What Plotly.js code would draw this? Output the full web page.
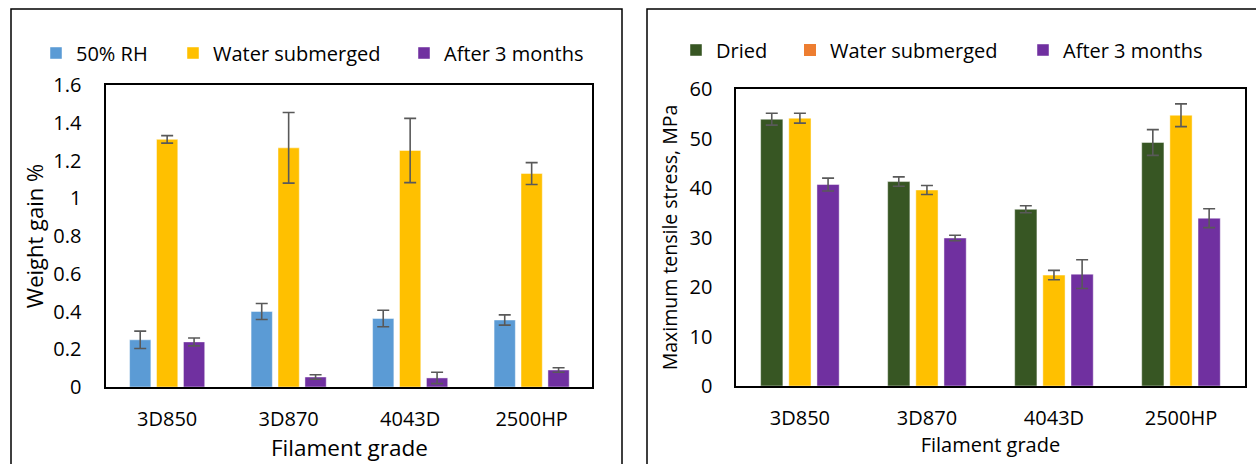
<!DOCTYPE html>
<html>
<head>
<meta charset="utf-8">
<script src="https://cdn.plot.ly/plotly-3.0.1.min.js"></script>
<style>
  html, body { margin: 0; padding: 0; background: #fff; }
  #chart { width: 1256px; height: 464px; }
</style>
</head>
<body>
<div id="chart"></div>
<script>
// Filament grades shared by both panels
const grades = ['3D850', '3D870', '4043D', '2500HP'];

// Left panel: weight gain (%)
const gainRH = [0.25, 0.40, 0.363, 0.355];
const gainRHErr = [0.046, 0.042, 0.044, 0.027];
const gainWater = [1.312, 1.267, 1.253, 1.131];
const gainWaterErr = [0.02, 0.187, 0.17, 0.058];
const gainAfter = [0.239, 0.053, 0.048, 0.090];
const gainAfterErr = [0.021, 0.012, 0.03, 0.012];

// Right panel: maximum tensile stress (MPa)
const stressDried = [53.9, 41.3, 35.7, 49.2];
const stressDriedErr = [1.2, 0.95, 0.7, 2.6];
const stressWater = [54.1, 39.6, 22.4, 54.7];
const stressWaterErr = [1.0, 0.9, 0.95, 2.3];
const stressAfter = [40.7, 29.9, 22.6, 33.9];
const stressAfterErr = [1.3, 0.55, 2.9, 1.9];

const W = 1256, H = 464;
const px = v => v / W;          // horizontal pixel -> paper
const py = v => 1 - v / H;      // vertical pixel (from top) -> paper

const FONT = '"Open Sans", "Noto Sans", sans-serif';
const BLUE = '#5B9BD5', YELLOW = '#FFC000', PURPLE = '#7030A0';
const GREEN = '#375623', ORANGE = '#ED7D31';

function errBar(arr) {
  return { type: 'data', array: arr, visible: true, color: '#595959', thickness: 1.6, width: 6 };
}

function bar(name, y, err, color, xa, ya, legend, extra) {
  return Object.assign({
    type: 'bar', name: name, x: grades, y: y,
    xaxis: xa, yaxis: ya, legend: legend,
    marker: { color: color, line: { color: 'rgba(255,255,255,0.45)', width: 1 } },
    error_y: errBar(err),
    hoverinfo: 'x+y+name'
  }, extra || {});
}

const data = [
  bar('50% RH', gainRH, gainRHErr, BLUE, 'x', 'y', 'legend'),
  bar('Water submerged', gainWater, gainWaterErr, YELLOW, 'x', 'y', 'legend2'),
  bar('After 3 months', gainAfter, gainAfterErr, PURPLE, 'x', 'y', 'legend3'),

  bar('Dried', stressDried, stressDriedErr, GREEN, 'x2', 'y2', 'legend4', { offsetgroup: 'd' }),
  bar('Water submerged', stressWater, stressWaterErr, YELLOW, 'x2', 'y2', 'legend5', { offsetgroup: 'w', showlegend: false }),
  // legend key for the submerged series keeps its orange swatch
  { type: 'bar', name: 'Water submerged', x: [grades[0]], y: [null], xaxis: 'x2', yaxis: 'y2',
    legend: 'legend5', offsetgroup: 'w', marker: { color: ORANGE }, hoverinfo: 'skip' },
  bar('After 3 months', stressAfter, stressAfterErr, PURPLE, 'x2', 'y2', 'legend6', { offsetgroup: 'a' })
];

function legendAt(xPix, yPix) {
  return {
    x: px(xPix), y: py(yPix), xanchor: 'left', yanchor: 'middle',
    orientation: 'h', bgcolor: 'rgba(0,0,0,0)', borderwidth: 0,
    itemwidth: 30, font: { family: FONT, size: 20, color: '#000' },
    itemclick: false, itemdoubleclick: false
  };
}

const axisLine = { showline: true, mirror: true, linecolor: '#000', linewidth: 2,
  showgrid: false, zeroline: false, ticks: '' };

const layout = {
  width: W, height: H,
  margin: { l: 0, r: 0, t: 0, b: 0 },
  paper_bgcolor: '#fff', plot_bgcolor: '#fff',
  font: { family: FONT, color: '#000' },
  barmode: 'group', bargap: 0.335, bargroupgap: 0.21,
  showlegend: true,
  xaxis: Object.assign({}, axisLine, {
    domain: [px(106.4), px(592.4)], anchor: 'y', type: 'category',
    tickfont: { family: FONT, size: 20, color: '#000' }, ticklabelstandoff: 13,
    title: { text: 'Filament grade', font: { family: FONT, size: 22.5, color: '#000' }, standoff: 3 }
  }),
  yaxis: Object.assign({}, axisLine, {
    domain: [py(387), py(85)], anchor: 'x', range: [0, 1.6], dtick: 0.2,
    tickfont: { family: FONT, size: 20, color: '#000' }, ticklabelstandoff: 19,
    title: { text: 'Weight gain %', font: { family: FONT, size: 22, color: '#000' }, standoff: 4 }
  }),
  xaxis2: Object.assign({}, axisLine, {
    domain: [px(736.4), px(1244.5)], anchor: 'y2', type: 'category',
    tickfont: { family: FONT, size: 20, color: '#000' }, ticklabelstandoff: 13,
    title: { text: 'Filament grade', font: { family: FONT, size: 20, color: '#000' }, standoff: 6 }
  }),
  yaxis2: Object.assign({}, axisLine, {
    domain: [py(386), py(89)], anchor: 'x2', range: [0, 60], dtick: 10,
    tickfont: { family: FONT, size: 20, color: '#000' }, ticklabelstandoff: 18,
    title: { text: 'Maximum tensile stress, MPa', font: { family: FONT, size: 19.5, color: '#000' }, standoff: 7 }
  }),
  legend: legendAt(36, 53),
  legend2: legendAt(173, 53),
  legend3: legendAt(404, 53),
  legend4: legendAt(676, 50),
  legend5: legendAt(790, 50),
  legend6: legendAt(1023, 50),
  shapes: [
    { type: 'rect', xref: 'paper', yref: 'paper', x0: px(11), x1: px(622), y0: -0.1, y1: py(9),
      line: { color: '#000', width: 1.5 }, fillcolor: 'rgba(0,0,0,0)', layer: 'below' },
    { type: 'rect', xref: 'paper', yref: 'paper', x0: px(647), x1: 1.1, y0: -0.1, y1: py(9),
      line: { color: '#000', width: 1.5 }, fillcolor: 'rgba(0,0,0,0)', layer: 'below' }
  ]
};

Plotly.newPlot('chart', data, layout, { staticPlot: true, displayModeBar: false });
</script>
</body>
</html>
